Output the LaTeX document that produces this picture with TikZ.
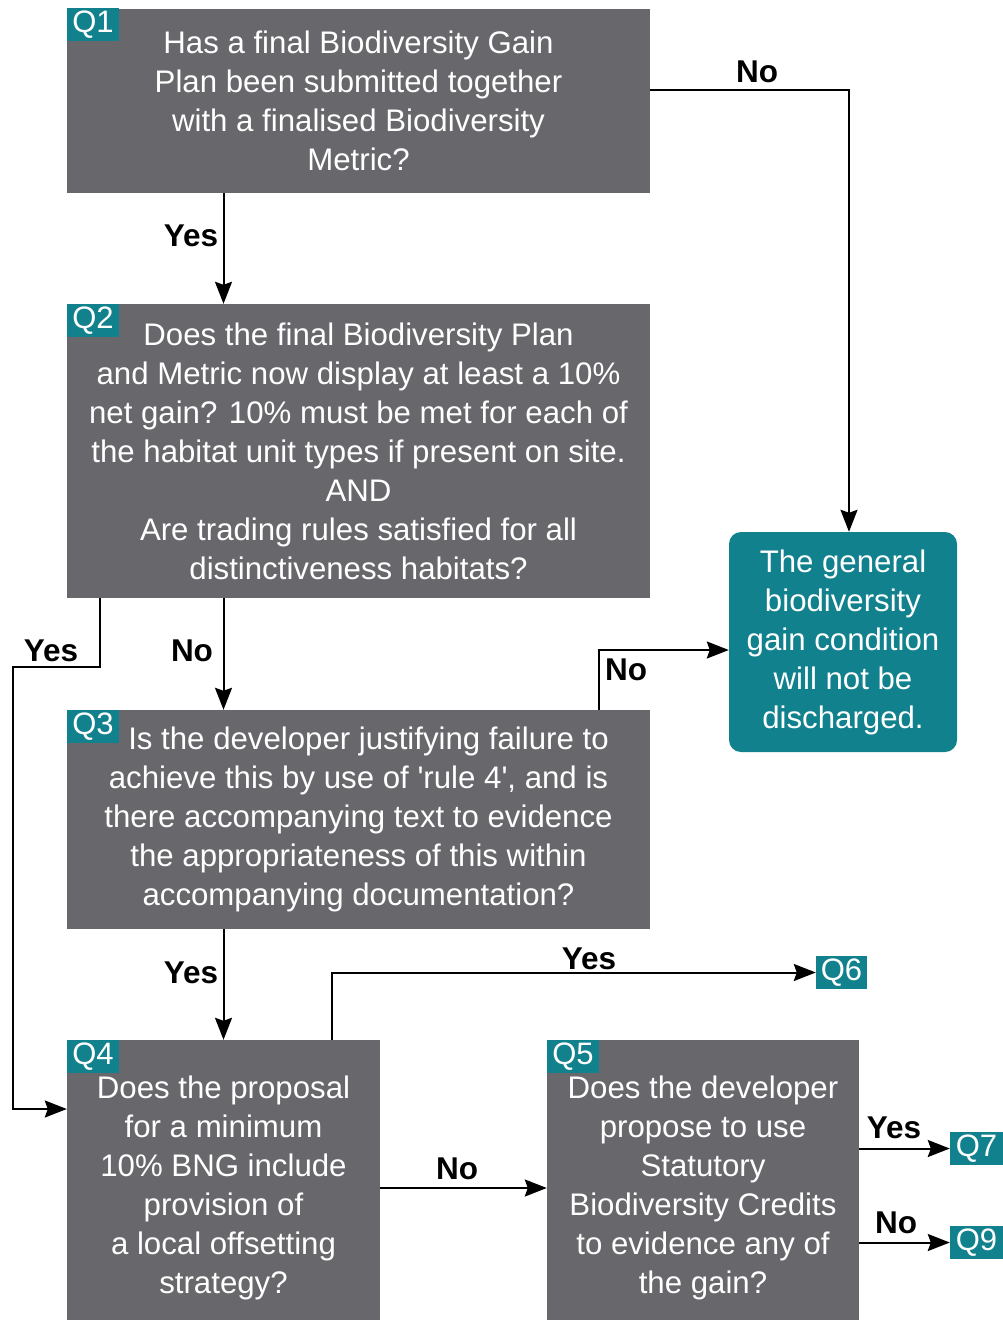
\documentclass[tikz,border=0pt]{standalone}
\usepackage{fontspec}
\setmainfont{Liberation Sans}
\usetikzlibrary{arrows.meta}
\definecolor{boxgray}{RGB}{104,104,108}
\definecolor{teal}{RGB}{18,129,142}
\tikzset{
  qbox/.style={fill=boxgray, text=white, inner sep=0pt, align=center,
    font=\fontsize{31.2}{39}\selectfont},
  endbox/.style={fill=teal, text=white, inner sep=0pt, align=center, rounded corners=12pt,
    minimum width=228pt, minimum height=220pt, font=\fontsize{31.2}{39}\selectfont},
  qtag/.style={fill=teal, text=white, inner sep=0pt, minimum width=52pt, minimum height=33pt,
    font=\fontsize{31}{33}\selectfont},
  arr/.style={line width=2pt, -{Stealth[length=22pt, width=17pt, inset=3pt]}},
  lbl/.style={font=\fontsize{31.5}{33}\selectfont\bfseries, inner sep=0pt}
}
\begin{document}
\begin{tikzpicture}[x=1pt, y=-1pt]
\useasboundingbox (0,0) rectangle (1003,1320);
\clip (0,0) rectangle (1003,1320);
\fill[white] (0,0) rectangle (1003,1320);

% boxes
\node[qbox, minimum width=583pt, minimum height=184pt] (q1) at (358.5,101)
  {Has a final Biodiversity Gain\\Plan been submitted together\\with a finalised Biodiversity\\Metric?};
\node[qbox, minimum width=583pt, minimum height=294pt] (q2) at (358.5,451)
  {Does the final Biodiversity Plan\\and Metric now display at least a 10\%\\net gain? 10\% must be met for each of\\the habitat unit types if present on site.\\AND\\Are trading rules satisfied for all\\distinctiveness habitats?};
\node[qbox, minimum width=583pt, minimum height=219pt] (q3) at (358.5,819.5)
  {\hspace*{20pt}Is the developer justifying failure to\\achieve this by use of \textquotesingle rule 4\textquotesingle, and is\\there accompanying text to evidence\\the appropriateness of this within\\accompanying documentation?};
\node[qbox, minimum width=313pt, minimum height=296pt] (q4) at (223.5,1188)
  {Does the proposal\\for a minimum\\10\% BNG include\\provision of\\a local offsetting\\strategy?};
\node[qbox, minimum width=312pt, minimum height=296pt] (q5) at (703,1188)
  {Does the developer\\propose to use\\Statutory\\Biodiversity Credits\\to evidence any of\\the gain?};
\node[endbox] (out) at (843,642)
  {The general\\biodiversity\\gain condition\\will not be\\discharged.};

% tags
\node[qtag, anchor=north west] (t1) at ([yshift=1pt]q1.north west) {Q1};
\node[qtag, anchor=north west] (t2) at (q2.north west) {Q2};
\node[qtag, anchor=north west] (t3) at (q3.north west) {Q3};
\node[qtag, anchor=north west] (t4) at (q4.north west) {Q4};
\node[qtag, anchor=north west] (t5) at (q5.north west) {Q5};
\node[qtag, minimum width=51pt] (q6) at (841.5,972.5) {Q6};
\node[qtag, minimum width=53pt] (q7) at (976.5,1148.5) {Q7};
\node[qtag, minimum width=53pt] (q9) at (976.5,1242.5) {Q9};

% connectors
\draw[arr] ([yshift=11pt]q1.east) -| ([xshift=6pt]out.north);
\draw[arr] (q1.south -| q4.north) -- (q2.north -| q4.north);
\draw[arr] (q2.south -| q4.north) -- (q3.north -| q4.north);
\draw[arr] (q3.south -| q4.north) -- (q4.north);
\draw[arr] ([xshift=33pt]q2.south west) |- (13,667) |- ([yshift=79pt]q4.west);
\draw[arr] ([xshift=-51pt]q3.north east) |- ([yshift=-8pt]out.west);
\draw[arr] ([xshift=108.5pt]q4.north) |- (q6.west);
\draw[arr] (q4.east) -- (q5.west);
\draw[arr] (q5.east |- q7.west) -- (q7.west);
\draw[arr] (q5.east |- q9.west) -- (q9.west);

% labels
\node[lbl] (l1) at (757,72) {No};
\node[lbl] (l2) at (191,236) {Yes};
\node[lbl] (l3) at (51,651) {Yes};
\node[lbl] (l4) at (192,651) {No};
\node[lbl] (l5) at (626,670) {No};
\node[lbl] (l6) at (191,973) {Yes};
\node[lbl] (l7) at (589,959) {Yes};
\node[lbl] (l8) at (457,1169) {No};
\node[lbl] (l9) at (894,1128) {Yes};
\node[lbl] (l10) at (896,1223) {No};
\end{tikzpicture}
\end{document}
